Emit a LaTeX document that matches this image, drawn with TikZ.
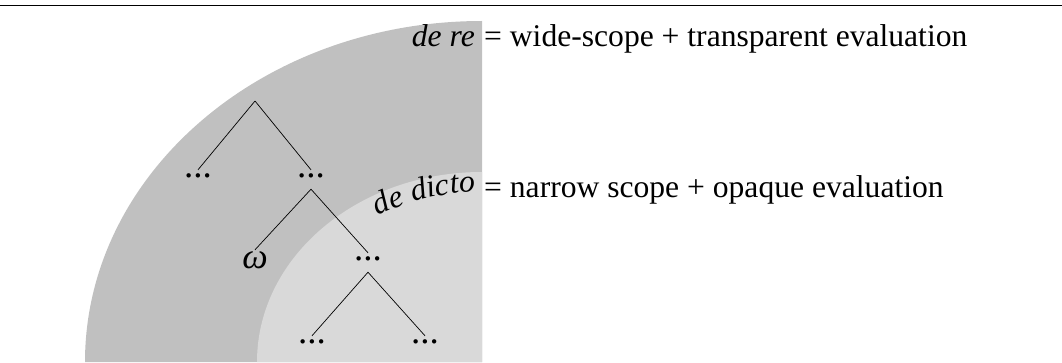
\documentclass[tikz,border=0pt]{standalone}
\usepackage{fontspec}
\setmainfont{Liberation Serif}
\usepackage{xcolor}
\usetikzlibrary{decorations.text}
\definecolor{dereshade}{RGB}{192,192,192}
\definecolor{dictoshade}{RGB}{217,217,217}
\newcommand{\lblfont}{\fontsize{31.6}{38}\selectfont}
\newcommand{\tdots}{{\fontsize{37}{40}\selectfont...}}
\begin{document}
\begin{tikzpicture}[
        x=1pt, y=1pt, font=\lblfont,
        lbl/.style={inner sep=0pt},
        leaf/.style={inner sep=0pt, anchor=base, text height=7.5pt, text depth=11.5pt},
        edge/.style={line width=0.7pt}
    ]
        \useasboundingbox (0,0) rectangle (1062,362);
        \fill[dereshade] (482,0) -- (85,0) arc[start angle=180, end angle=90, x radius=397, y radius=341] -- cycle;
        \fill[dictoshade] (482,0) -- (257,0) arc[start angle=180, end angle=90, x radius=225, y radius=190] -- cycle;
        \draw[line width=1pt] (0,356) -- (1062,356);
        \coordinate (root) at (255,261);
        \node[leaf] (l1a) at (198,184.5) {\tdots};
        \node[leaf] (l1b) at (311,184.5) {\tdots};
        \node[leaf, text height=18pt] (omega) at (255,94) {\fontsize{36}{40}\selectfont\itshape ω};
        \node[leaf] (l2b) at (368,101.5) {\tdots};
        \node[leaf] (l3a) at (312,18.5) {\tdots};
        \node[leaf] (l3b) at (425,18.5) {\tdots};
        \draw[edge] (root) -- (l1a.north);
        \draw[edge] (root) -- (l1b.north);
        \draw[edge] (l1b.south) -- (omega.north);
        \draw[edge] (l1b.south) -- (l2b.north);
        \draw[edge] (l2b.south) -- (l3a.north);
        \draw[edge] (l2b.south) -- (l3b.north);
        \node[lbl, anchor=base west] (eqre) at (484,315) {= wide-scope + transparent evaluation};
        \node[lbl, anchor=base east] (dere) at ([xshift=-9pt]eqre.base west) {\itshape de re};
        \node[lbl, anchor=base west] (eqdicto) at (484,165) {= narrow scope + opaque evaluation};
        \path[decorate, decoration={text along path,
            text={|\lblfont\itshape|de dicto}}]
            (482,0) ++(120.5:205 and 170) arc[start angle=120.5, end angle=75, x radius=205, y radius=170];
    \end{tikzpicture}
\end{document}
